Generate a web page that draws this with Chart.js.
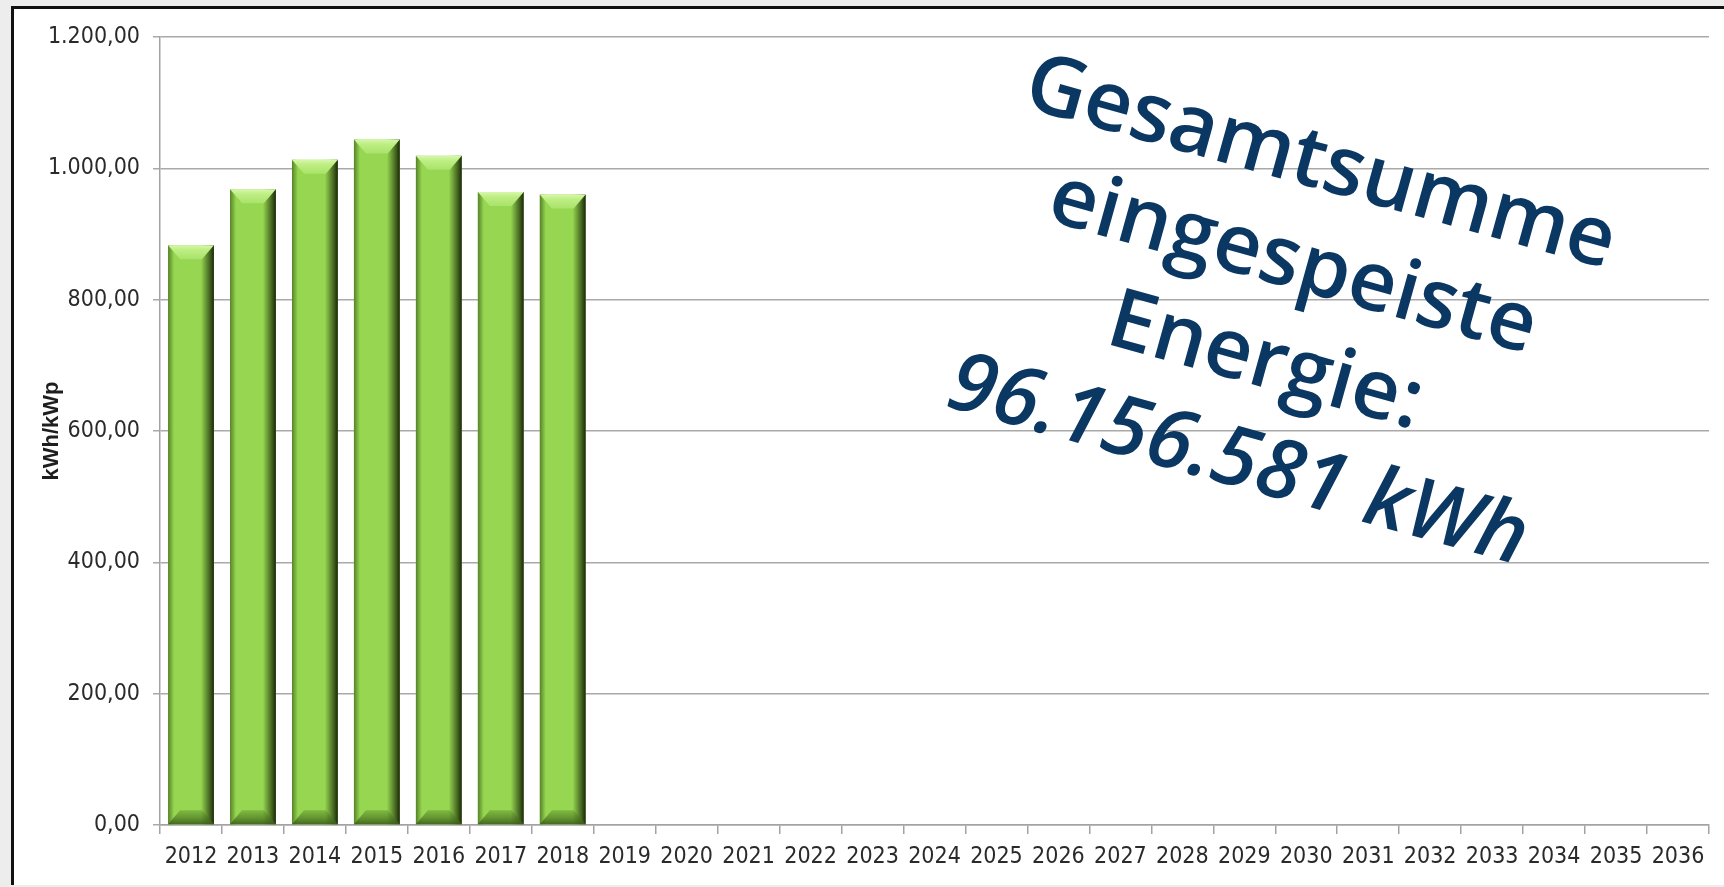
<!DOCTYPE html>
<html lang="de">
<head>
  <meta charset="UTF-8" />
  <title>Ertrag kWh/kWp</title>
  <script src="https://cdn.jsdelivr.net/npm/chart.js"></script>
  <style>
    html, body { margin: 0; padding: 0; }
    body { width: 1724px; height: 887px; background: #ededed; overflow: hidden; position: relative; }
    .frame {
      position: absolute; left: 11px; top: 6px; right: -4px; bottom: 2px;
      background: #fff; border-left: 3px solid #111; border-top: 3px solid #111;
    }
    .chart-box { position: absolute; left: 0; top: 0; width: 1724px; height: 887px; }
  </style>
</head>
<body>

<div class="frame"></div>
<div class="chart-box">
  <canvas id="ertragChart"></canvas>
</div>

<script>
// Daten
const years = ['2012', '2013', '2014', '2015', '2016', '2017', '2018', '2019', '2020', '2021',
  '2022', '2023', '2024', '2025', '2026', '2027', '2028', '2029', '2030', '2031',
  '2032', '2033', '2034', '2035', '2036'];
const yields = [883, 968, 1013, 1044, 1019, 964, 960, null, null, null,
  null, null, null, null, null, null, null, null, null, null,
  null, null, null, null, null];
const yMin = 0;
const yMax = 1200;
const yStep = 200;
const axisTitle = 'kWh/kWp';
const noteLines = ['Gesamtsumme', 'eingespeiste', 'Energie:', '96.156.581 kWh'];

// 1200 -> "1.200,00"
function formatDe(v) {
  const parts = Number(v).toFixed(2).split('.');
  return parts[0].replace(/\B(?=(\d{3})+(?!\d))/g, '.') + ',' + parts[1];
}

// Abgeschraegte Saeulen (Excel-Look)
const bevelPlugin = {
  id: 'bevel',
  afterDatasetsDraw(chart) {
    const ctx = chart.ctx;
    const meta = chart.getDatasetMeta(0);
    meta.data.forEach((bar, i) => {
      if (yields[i] == null) return;
      const p = bar.getProps(['x', 'y', 'base', 'width'], true);
      const l = p.x - p.width / 2, r = p.x + p.width / 2;
      const top = p.y, bottom = p.base;
      const bev = 12, bh = 14;
      ctx.save();

      // linke Kante
      let g = ctx.createLinearGradient(l, 0, l + 6, 0);
      g.addColorStop(0, 'rgba(70,110,30,0.8)');
      g.addColorStop(1, 'rgba(70,110,30,0)');
      ctx.fillStyle = g;
      ctx.fillRect(l, top, 6, bottom - top);

      // rechte Kante (Schatten)
      g = ctx.createLinearGradient(r - 13, 0, r, 0);
      g.addColorStop(0, 'rgba(40,62,15,0)');
      g.addColorStop(0.55, 'rgba(40,62,15,0.6)');
      g.addColorStop(1, 'rgba(25,38,8,1)');
      ctx.fillStyle = g;
      ctx.fillRect(r - 13, top, 13, bottom - top);

      // Boden
      ctx.beginPath();
      ctx.moveTo(l, bottom);
      ctx.lineTo(r, bottom);
      ctx.lineTo(r - bev, bottom - bh);
      ctx.lineTo(l + bev, bottom - bh);
      ctx.closePath();
      g = ctx.createLinearGradient(0, bottom - bh, 0, bottom);
      g.addColorStop(0, 'rgba(90,140,40,0.4)');
      g.addColorStop(1, 'rgba(60,95,25,0.9)');
      ctx.fillStyle = g;
      ctx.fill();

      // Deckel
      ctx.beginPath();
      ctx.moveTo(l, top);
      ctx.lineTo(r, top);
      ctx.lineTo(r - bev, top + bh);
      ctx.lineTo(l + bev, top + bh);
      ctx.closePath();
      g = ctx.createLinearGradient(0, top, 0, top + bh);
      g.addColorStop(0, '#d8f7ac');
      g.addColorStop(0.35, '#bdee82');
      g.addColorStop(1, '#a9e36b');
      ctx.fillStyle = g;
      ctx.fill();

      ctx.restore();
    });
  }
};

// Schraeger Hinweistext
const notePlugin = {
  id: 'note',
  afterDraw(chart) {
    const ctx = chart.ctx;
    ctx.save();
    ctx.translate(1280, 310);
    ctx.rotate(15.5 * Math.PI / 180);
    ctx.fillStyle = '#0b3763';
    ctx.textAlign = 'center';
    ctx.textBaseline = 'alphabetic';
    const baselines = [-127, -24, 79, 182];
    noteLines.forEach((line, i) => {
      const italic = i === noteLines.length - 1 ? 'italic ' : '';
      ctx.font = italic + '600 83px "Open Sans", "Noto Sans", sans-serif';
      ctx.fillText(line, 0, baselines[i]);
    });
    ctx.restore();
  }
};

const ctx = document.getElementById('ertragChart').getContext('2d');
new Chart(ctx, {
  type: 'bar',
  data: {
    labels: years,
    datasets: [{
      label: axisTitle,
      data: yields,
      backgroundColor: '#96d651',
      borderWidth: 0,
      categoryPercentage: 0.74,
      barPercentage: 1
    }]
  },
  options: {
    responsive: true,
    maintainAspectRatio: false,
    animation: false,
    layout: { padding: { top: 37, right: 15, bottom: 0, left: 0 } },
    plugins: {
      legend: { display: false },
      tooltip: { enabled: false }
    },
    scales: {
      x: {
        afterFit(scale) { scale.height = 62; },
        grid: {
          display: true,
          drawOnChartArea: false,
          drawTicks: true,
          tickLength: 9,
          offset: true,
          color: '#a3a3a3',
          lineWidth: 1.5
        },
        border: { color: '#a3a3a3', width: 1.5 },
        ticks: {
          color: '#2a2a2a',
          padding: 9,
          maxRotation: 0,
          autoSkip: false,
          font: { family: '"Liberation Sans Narrow", "DejaVu Sans Condensed", sans-serif', size: 23 }
        }
      },
      y: {
        min: yMin,
        max: yMax,
        afterFit(scale) { scale.width = 160; },
        grid: {
          color: '#a9a9a9',
          lineWidth: 1.5,
          tickLength: 7
        },
        border: { color: '#a3a3a3', width: 1.5 },
        ticks: {
          stepSize: yStep,
          color: '#2a2a2a',
          padding: 13,
          callback: (v) => formatDe(v),
          font: { family: '"Liberation Sans Narrow", "DejaVu Sans Condensed", sans-serif', size: 23 }
        },
        title: {
          display: true,
          text: axisTitle,
          color: '#1e1e1e',
          padding: { top: 39, bottom: 0 },
          font: { family: '"Liberation Sans", Arial, sans-serif', size: 22, weight: 'bold' }
        }
      }
    }
  },
  plugins: [bevelPlugin, notePlugin]
});
</script>

</body>
</html>
